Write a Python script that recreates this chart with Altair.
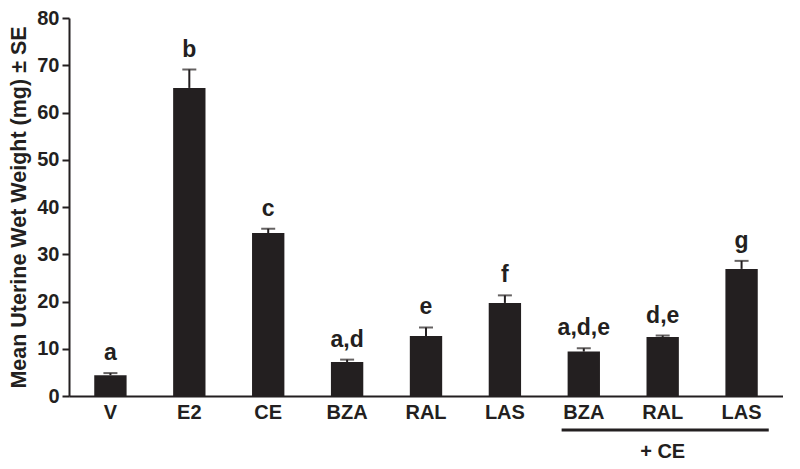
import altair as alt
import pandas as pd

keys = ["V", "E2", "CE", "BZA", "RAL", "LAS", "BZA+CE", "RAL+CE", "LAS+CE"]
means = [4.4, 65.2, 34.5, 7.2, 12.7, 19.7, 9.4, 12.5, 26.9]
errors = [0.45, 3.9, 0.9, 0.5, 1.8, 1.6, 0.7, 0.3, 1.7]
letters = ["a", "b", "c", "a,d", "e", "f", "a,d,e", "d,e", "g"]
y_ticks = [0, 10, 20, 30, 40, 50, 60, 70, 80]

df = pd.DataFrame({"key": keys, "mean": means, "err": errors, "letter": letters})
df["top"] = df["mean"] + df["err"]

grp = pd.DataFrame({"start": ["BZA+CE"], "end": ["LAS+CE"], "mid": ["RAL+CE"], "label": ["+ CE"]})

INK = "#231f20"
FONT = "Liberation Sans"
W, H = 714, 378

xscale = alt.Scale(domain=keys, paddingInner=0.59, paddingOuter=0.32)
yscale = alt.Scale(domain=[0, 80], nice=False)

base = alt.Chart(df)

bars = base.mark_bar(color=INK).encode(
    x=alt.X("key:N", scale=xscale, sort=keys, title=None,
            axis=alt.Axis(labelExpr="replace(datum.label, '+CE', '')", ticks=False,
                          labelAngle=0, labelPadding=6, domainWidth=2, domainColor=INK)),
    y=alt.Y("mean:Q", scale=yscale,
            axis=alt.Axis(values=y_ticks, title="Mean Uterine Wet Weight (mg) ± SE",
                          grid=False, tickSize=7, tickWidth=2, tickColor=INK,
                          domainWidth=2, domainColor=INK, labelPadding=3,
                          titlePadding=6, titleFontSize=21.5)),
)

err_line = base.mark_rule(color=INK, strokeWidth=2).encode(
    x=alt.X("key:N", scale=xscale, sort=keys, title=None),
    y=alt.Y("mean:Q", scale=yscale),
    y2="top:Q",
)

err_cap = base.mark_tick(color=INK, size=14, thickness=2).encode(
    x=alt.X("key:N", scale=xscale, sort=keys, title=None),
    y=alt.Y("top:Q", scale=yscale),
)

labels = base.mark_text(color=INK, font=FONT, fontSize=23, fontWeight="bold",
                        baseline="alphabetic", dy=-13).encode(
    x=alt.X("key:N", scale=xscale, sort=keys, title=None),
    y=alt.Y("top:Q", scale=yscale),
    text="letter:N",
)

grp_rule = alt.Chart(grp).mark_rule(color=INK, strokeWidth=3, xOffset=-6, x2Offset=11).encode(
    x=alt.X("start:N", scale=xscale, sort=keys, title=None, bandPosition=0),
    x2=alt.X2("end:N", bandPosition=1),
    y=alt.value(H + 34),
)

grp_text = alt.Chart(grp).mark_text(color=INK, font=FONT, fontSize=20, fontWeight="bold",
                                    baseline="middle").encode(
    x=alt.X("mid:N", scale=xscale, sort=keys, title=None),
    y=alt.value(H + 56),
    text="label:N",
)

chart = alt.layer(bars, err_line, err_cap, labels, grp_rule, grp_text).properties(
    width=W, height=H, padding=0
).configure_view(stroke=None).configure_axis(
    labelFont=FONT, titleFont=FONT, labelFontSize=20, labelFontWeight="bold",
    titleFontWeight="bold", labelColor=INK, titleColor=INK
)

chart.save("out.html", embed_options={"renderer": "svg", "actions": False})
